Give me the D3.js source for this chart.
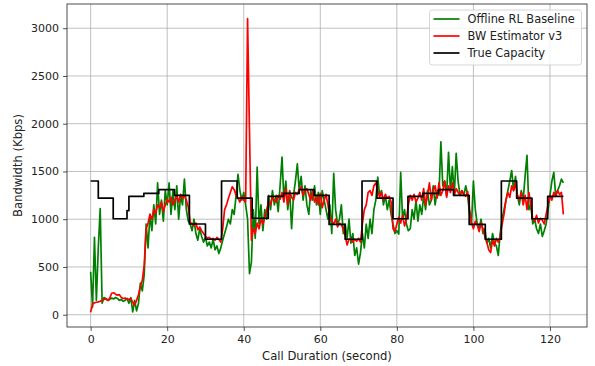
<!DOCTYPE html>
<html>
<head>
<meta charset="utf-8">
<script src="https://cdn.jsdelivr.net/npm/d3@7"></script>
<style>
  html, body { margin: 0; padding: 0; background: #ffffff; }
  svg { display: block; font-family: "DejaVu Sans", sans-serif; }
</style>
</head>
<body>
<svg id="chart" width="595" height="366"></svg>
<script>
// Sample times (seconds), one sample every 0.5 s
const timeStep = 0.5;
const sampleCount = 248;

// Offline RL Baseline bandwidth (Kbps)
const offlineRL = [
  450, 80, 810, 150, 700, 1110, 120, 180, 170, 150,
  160, 175, 165, 180, 170, 150, 160, 140, 150, 170,
  120, 180, 30, 150, 40, 120, 330, 250, 420, 950,
  700, 1050, 880, 1150, 950, 1380, 1050, 1200, 980, 1300,
  1150, 1380, 1050, 1300, 1100, 1350, 1000, 1250, 1150, 1420,
  1100, 980, 950, 880, 1000, 850, 780, 900, 820, 760,
  810, 720, 760, 700, 790, 680, 720, 640, 700, 780,
  850, 920, 1000, 950, 1100, 1050, 1250, 1470, 1300, 1200,
  1280, 1150, 1000, 430, 550, 1100, 800, 1545, 950, 1150,
  880, 1100, 1000, 1250, 1100, 1300, 1150, 1250, 1080, 1350,
  1650, 1200, 1400, 1100, 1300, 900, 1250, 1400, 1580, 1300,
  1450, 1200, 1350, 1150, 1050, 1300, 1200, 1350, 1150, 1280,
  1050, 1300, 1200, 1100, 1000, 1150, 850, 1480, 1100, 950,
  1000, 1150, 850, 950, 800, 1000, 750, 850, 620, 700,
  530, 650, 850, 700, 950, 800, 1000, 850, 1100, 1200,
  1440, 1250, 1300, 1150, 1250, 1100, 1200, 1050, 950, 850,
  880, 845, 1490, 1000, 1100, 950, 880, 900, 1100, 1000,
  1200, 980, 1150, 1050, 1250, 1100, 1300, 1150, 1200, 1350,
  1150, 1300, 1250, 1810, 1350, 1400, 1250, 1700, 1300, 1550,
  1250, 1690, 1400, 1250, 1300, 1250, 1350, 1250, 1050, 950,
  1400, 1100, 950, 900, 1000, 850, 900, 750, 800, 700,
  850, 750, 720, 620, 850, 1000, 1100, 1200, 1300, 1400,
  1510, 1300, 1450, 1250, 1150, 1300, 1200, 1450, 1670, 1100,
  1150, 950, 1000, 900, 850, 950, 820, 880, 950, 1100,
  1250, 1400, 1490, 1250, 1300, 1350, 1420, 1380
];

// BW Estimator v3 bandwidth (Kbps)
const bwEstimator = [
  25, 110, 125, 130, 135, 140, 150, 160, 165, 150,
  175, 225, 230, 215, 205, 210, 180, 170, 175, 165,
  160, 170, 130, 100, 150, 210, 300, 360, 520, 900,
  960, 1050, 1000, 1100, 1060, 1150, 1120, 1180, 1080, 1150,
  1210, 1180, 1230, 1150, 1200, 1240, 1180, 1260, 1220, 1250,
  1200, 1130, 970, 950, 930, 960, 890, 920, 880, 850,
  820, 800, 810, 790, 800, 780, 810, 790, 760, 900,
  1100, 1150, 1220, 1280, 1340, 1310, 1250, 1220, 1180, 1240,
  1200, 1180, 3100, 1920, 780, 900, 850, 960, 900, 1000,
  950, 1020, 1100, 1180, 1150, 1230, 1200, 1180, 1250, 1210,
  1280, 1180, 1320, 1150, 1290, 1230, 1200, 1280, 1260, 1310,
  1340, 1250, 1300, 1320, 1260, 1200, 1300, 1180, 1230, 1150,
  1270, 1120, 1200, 1260, 1150, 1020, 980, 950, 1000, 920,
  960, 940, 900, 830, 730, 790, 800, 760, 790, 770,
  800, 760, 950, 1100, 1150, 1280, 1300, 1250, 1350, 1380,
  1300, 1230, 1280, 1200, 1260, 1220, 1240, 1180, 900, 870,
  950, 1020, 960, 1040, 930, 1000, 1150, 1250, 1200, 1260,
  1180, 1220, 1280, 1200, 1320, 1150, 1250, 1380, 1200, 1300,
  1350, 1220, 1380, 1250, 1300, 1400, 1230, 1350, 1280, 1380,
  1250, 1320, 1280, 1250, 1300, 1260, 1240, 1290, 1100, 960,
  900, 980, 940, 870, 960, 900, 820, 760, 680, 650,
  780, 720, 800, 760, 820, 950, 1050, 1200, 1280, 1230,
  1350, 1300, 1380, 1250, 1200, 1280, 1150, 1250, 1100, 1280,
  1150, 1000, 980, 1040, 960, 1010, 990, 950, 1050, 1150,
  1250, 1200, 1280, 1240, 1300, 1260, 1280, 1050
];

// True Capacity: piecewise-constant levels starting at each change time
const capacityTimes = [
  0, 2, 5.9, 9.5, 10, 13.9, 17.8, 21.9, 25.8, 30, 34.2,
  38.3, 42.2, 46.4, 50.4, 54.5, 58.4, 62.3, 66.5, 70.9, 74.8,
  79, 82.9, 86.8, 90.9, 94.8, 98.9, 103.1, 107.3, 111.3, 115.3,
  119.4, 123.5
];
const capacityLevels = [
  1400, 1220, 1005, 1090, 1240, 1270, 1310, 1250, 950, 790, 1400,
  1220, 1010, 1240, 1270, 1310, 1250, 945, 790, 1400, 1220,
  1005, 1240, 1270, 1310, 1250, 945, 790, 1400, 1220, 1005,
  1240, 1240
];

// Axis ticks and legend labels
const xTicks = [0, 20, 40, 60, 80, 100, 120];
const yTicks = [0, 500, 1000, 1500, 2000, 2500, 3000];
const seriesNames = ["Offline RL Baseline", "BW Estimator v3", "True Capacity"];
const seriesColors = ["#008000", "#ff0000", "#000000"];
const xTitle = "Call Duration (second)";
const yTitle = "Bandwidth (Kbps)";

const times = d3.range(sampleCount).map(i => i * timeStep);
const rlPoints = times.map((t, i) => [t, offlineRL[i]]);
const estPoints = times.map((t, i) => [t, bwEstimator[i]]);
const capPoints = capacityTimes.map((t, i) => [t, capacityLevels[i]]);

// Plot frame
const frame = { left: 67, right: 587, top: 4, bottom: 327 };
const svg = d3.select("#chart");

// Data limits padded by 5% on each side
const allX = times.concat(capacityTimes);
const allY = offlineRL.concat(bwEstimator, capacityLevels);
const [x0, x1] = d3.extent(allX);
const [y0, y1] = d3.extent(allY);
const xPad = (x1 - x0) * 0.05, yPad = (y1 - y0) * 0.05;

const x = d3.scaleLinear().domain([x0 - xPad, x1 + xPad]).range([frame.left, frame.right]);
const y = d3.scaleLinear().domain([y0 - yPad, y1 + yPad]).range([frame.bottom, frame.top]);

svg.append("defs").append("clipPath").attr("id", "plot-clip")
  .append("rect")
  .attr("x", frame.left).attr("y", frame.top)
  .attr("width", frame.right - frame.left).attr("height", frame.bottom - frame.top);

// Grid
const grid = svg.append("g").attr("stroke", "#b0b0b0").attr("stroke-width", 0.8);
grid.selectAll(".gx").data(xTicks).join("line")
  .attr("x1", d => x(d)).attr("x2", d => x(d))
  .attr("y1", frame.top).attr("y2", frame.bottom);
grid.selectAll(".gy").data(yTicks).join("line")
  .attr("x1", frame.left).attr("x2", frame.right)
  .attr("y1", d => y(d)).attr("y2", d => y(d));

// Series
const line = d3.line().x(d => x(d[0])).y(d => y(d[1]));
const stepLine = d3.line().x(d => x(d[0])).y(d => y(d[1])).curve(d3.curveStepAfter);
const plot = svg.append("g").attr("clip-path", "url(#plot-clip)")
  .attr("fill", "none").attr("stroke-width", 1.7).attr("stroke-linejoin", "round");

plot.append("path").datum(rlPoints).attr("stroke", seriesColors[0]).attr("d", line);
plot.append("path").datum(estPoints).attr("stroke", seriesColors[1]).attr("d", line);
plot.append("path").datum(capPoints).attr("stroke", seriesColors[2]).attr("d", stepLine);

// Axes
const xAxis = d3.axisBottom(x).tickValues(xTicks).tickSize(3.9).tickPadding(4).tickFormat(d3.format("d"));
const yAxis = d3.axisLeft(y).tickValues(yTicks).tickSize(3.9).tickPadding(4).tickFormat(d3.format("d"));

const gx = svg.append("g").attr("transform", `translate(0,${frame.bottom})`).call(xAxis);
const gy = svg.append("g").attr("transform", `translate(${frame.left},0)`).call(yAxis);
[gx, gy].forEach(g => {
  g.select(".domain").remove();
  g.selectAll(".tick line").attr("stroke", "#222").attr("stroke-width", 0.8);
  g.selectAll(".tick text").attr("fill", "#222").attr("font-size", 11)
    .attr("font-family", "DejaVu Sans, sans-serif");
});

// Frame
svg.append("rect")
  .attr("x", frame.left).attr("y", frame.top)
  .attr("width", frame.right - frame.left).attr("height", frame.bottom - frame.top)
  .attr("fill", "none").attr("stroke", "#222").attr("stroke-width", 0.8);

// Axis titles
svg.append("text")
  .attr("x", (frame.left + frame.right) / 2).attr("y", 360)
  .attr("text-anchor", "middle").attr("font-size", 11.6).attr("fill", "#222")
  .text(xTitle);
svg.append("text")
  .attr("transform", `translate(22,${(frame.top + frame.bottom) / 2}) rotate(-90)`)
  .attr("text-anchor", "middle").attr("font-size", 11.6).attr("fill", "#222")
  .text(yTitle);

// Legend
const legend = svg.append("g");
legend.append("rect")
  .attr("x", 429.5).attr("y", 10).attr("width", 152).attr("height", 55)
  .attr("rx", 3).attr("fill", "#ffffff").attr("fill-opacity", 0.8)
  .attr("stroke", "#cccccc").attr("stroke-width", 0.8);
const rows = legend.selectAll(".row").data(seriesNames).join("g")
  .attr("transform", (d, i) => `translate(0,${19 + i * 17})`);
rows.append("line")
  .attr("x1", 433.5).attr("x2", 459.5).attr("y1", 0).attr("y2", 0)
  .attr("stroke", (d, i) => seriesColors[i]).attr("stroke-width", 1.7);
rows.append("text")
  .attr("x", 467.5).attr("y", 4).attr("font-size", 11.4).attr("fill", "#222")
  .text(d => d);
</script>
</body>
</html>
